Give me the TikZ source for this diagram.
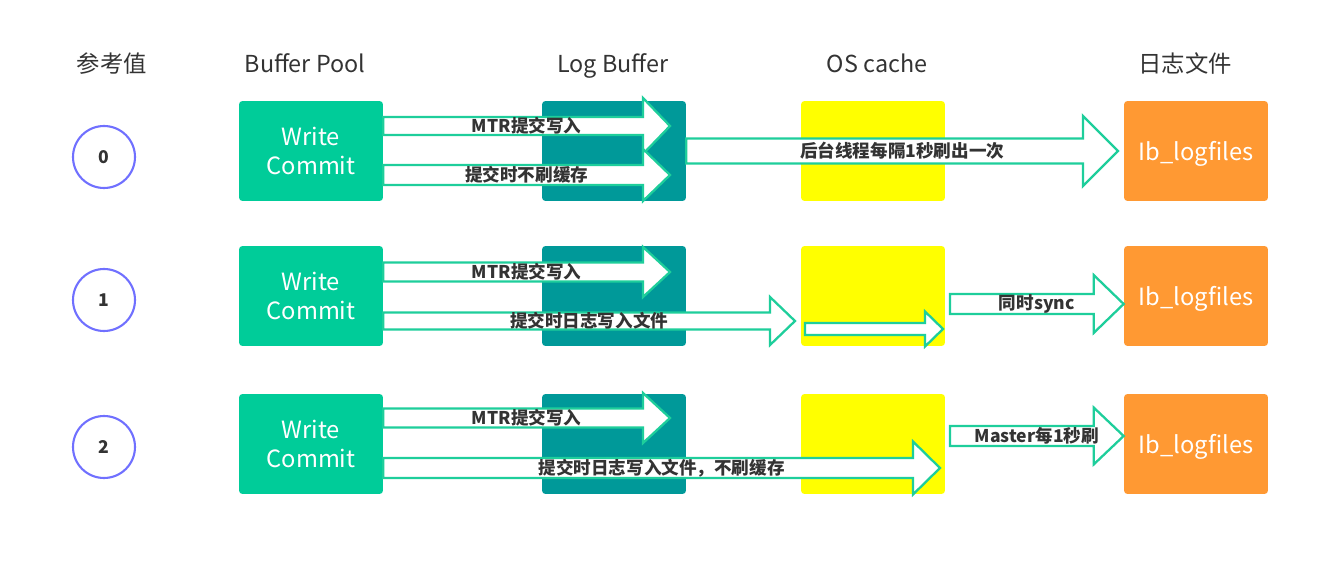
\documentclass[tikz,border=0pt]{standalone}
\usepackage{fontspec}
\setmainfont{Noto Sans CJK SC}
\usetikzlibrary{calc}
\definecolor{bpgreen}{RGB}{0,204,153}
\definecolor{lbteal}{RGB}{0,153,153}
\definecolor{ocyellow}{RGB}{255,255,0}
\definecolor{lforange}{RGB}{255,153,51}
\definecolor{arrowgreen}{RGB}{30,206,155}
\definecolor{circblue}{RGB}{112,112,255}
\definecolor{txtgray}{RGB}{51,51,51}
\newcommand{\boxfont}{\fontsize{13.5}{16.5}\selectfont}
% start, tip, shaft half width, head half width, head length, label
\newcommand{\fatarrow}[6]{%
\draw[fat] ($(#1)+(0,#3)$) -- ($(#2)+(-#5,#3)$) -- ($(#2)+(-#5,#4)$) -- (#2)
  -- ($(#2)+(-#5,-#4)$) -- ($(#2)+(-#5,-#3)$) -- ($(#1)+(0,-#3)$) -- cycle;
\path (#1) -- (#2) node[midway,lbl] {#6};}

\begin{document}
\begin{tikzpicture}[x=0.02cm,y=-0.02cm,
  box/.style={rectangle,rounded corners=2pt,minimum width=2.88cm,minimum height=2cm,inner sep=0pt,text=white,font=\boxfont,align=center},
  head/.style={anchor=base,text=txtgray,font=\fontsize{13.3}{16}\selectfont},
  circ/.style={circle,draw=circblue,line width=1.2pt,minimum size=1.24cm,inner sep=0pt,text=txtgray,font=\bfseries\fontsize{10}{12}\selectfont},
  fat/.style={draw=arrowgreen,fill=white,line width=1.3pt,line join=miter},
  lbl/.style={text=txtgray,inner sep=0pt,font=\bfseries\fontsize{10}{12}\selectfont}]
\useasboundingbox (0,0) rectangle (1330,564);
%column titles
\node[head] (h0) at (112,73) {参考值};
\node[head] (h1) at (305,73) {Buffer Pool};
\node[head] (h2) at (613,73) {Log Buffer};
\node[head] (h3) at (877,73) {OS cache};
\node[head] (h4) at (1185,73) {日志文件};
%circles and boxes of the three rows
\foreach \r/\y/\cy in {0/151/157,1/296/300,2/444/447}
{
\node[circ] (v\r) at (104,\cy) {\r};
\node[box,fill=bpgreen] (bp\r) at (311,\y) {Write\\Commit};
\node[box,fill=lbteal] (lb\r) at (614,\y) {};
\node[box,fill=ocyellow] (oc\r) at (873,\y) {};
\node[box,fill=lforange,text depth=0pt] (lf\r) at (1196,\y) {Ib\_logfiles};
}
%row 0
\coordinate (mtr0s) at (bp0.east |- 0,126);
\coordinate (mtr0t) at (670,126);
\coordinate (nf0s) at (bp0.east |- 0,175);
\coordinate (nf0t) at (670,175);
\coordinate (bg0s) at (lb0.east |- 0,151);
\coordinate (bg0t) at (1118,151);
\fatarrow{mtr0s}{mtr0t}{9}{28}{27}{MTR提交写入}
\fatarrow{nf0s}{nf0t}{10}{26}{27}{提交时不刷缓存}
\fatarrow{bg0s}{bg0t}{12.5}{35}{35}{后台线程每隔1秒刷出一次}
%row 1
\coordinate (mtr1s) at (bp1.east |- 0,272);
\coordinate (mtr1t) at (670,272);
\coordinate (wf1s) at (bp1.east |- 0,321);
\coordinate (wf1t) at (795,321);
\coordinate (oc1s) at (805,329);
\coordinate (oc1t) at (943,329);
\coordinate (sy1s) at (950,304);
\coordinate (sy1t) at (lf1.west |- 0,304);
\fatarrow{mtr1s}{mtr1t}{9.5}{25}{27}{MTR提交写入}
\fatarrow{wf1s}{wf1t}{8.5}{24}{25}{提交时日志写入文件}
\fatarrow{oc1s}{oc1t}{6}{17.5}{18}{}
\fatarrow{sy1s}{sy1t}{10}{29}{30}{同时sync}
%row 2
\coordinate (mtr2s) at (bp2.east |- 0,418);
\coordinate (mtr2t) at (670,418);
\coordinate (wf2s) at (bp2.east |- 0,468);
\coordinate (wf2t) at (940,468);
\coordinate (ms2s) at (950,436);
\coordinate (ms2t) at (lf2.west |- 0,436);
\fatarrow{mtr2s}{mtr2t}{9.5}{25}{27}{MTR提交写入}
\fatarrow{wf2s}{wf2t}{10}{26.5}{27}{提交时日志写入文件，不刷缓存}
\fatarrow{ms2s}{ms2t}{10}{28.5}{30}{Master每1秒刷}
\end{tikzpicture}
\end{document}
